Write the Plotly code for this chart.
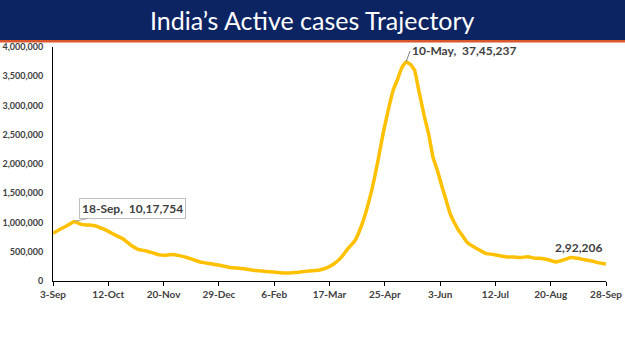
import plotly.graph_objects as go

dates = ["2020-09-03","2020-09-08","2020-09-13","2020-09-18","2020-09-23","2020-09-28",
         "2020-10-03","2020-10-08","2020-10-13","2020-10-18","2020-10-23","2020-10-28",
         "2020-11-02","2020-11-07","2020-11-12","2020-11-17","2020-11-22","2020-11-27",
         "2020-12-02","2020-12-07","2020-12-12","2020-12-17","2020-12-22","2020-12-27",
         "2021-01-01","2021-01-06","2021-01-11","2021-01-16","2021-01-21","2021-01-26",
         "2021-01-31","2021-02-05","2021-02-10","2021-02-13","2021-02-18","2021-02-23",
         "2021-02-28","2021-03-05","2021-03-10","2021-03-15","2021-03-20","2021-03-25",
         "2021-03-30","2021-04-04","2021-04-08","2021-04-12","2021-04-16","2021-04-20",
         "2021-04-24","2021-04-28","2021-05-01","2021-05-04","2021-05-07","2021-05-10",
         "2021-05-13","2021-05-16","2021-05-19","2021-05-23","2021-05-26","2021-05-29",
         "2021-06-01","2021-06-04","2021-06-07","2021-06-10","2021-06-13","2021-06-16",
         "2021-06-19","2021-06-22","2021-06-26","2021-06-30","2021-07-05","2021-07-10",
         "2021-07-15","2021-07-20","2021-07-25","2021-07-30","2021-08-04","2021-08-09",
         "2021-08-14","2021-08-19","2021-08-24","2021-08-29","2021-09-03","2021-09-08",
         "2021-09-13","2021-09-18","2021-09-23","2021-09-28"]
active = [815538, 883697, 947576, 1017754, 968377, 956402,
          940705, 893592, 836118, 772055, 710771, 610803,
          541405, 516632, 484547, 446805, 440962, 454940,
          428644, 396729, 354904, 318014, 300162, 278690,
          257656, 231036, 220676, 208826, 188688, 173740,
          164511, 155025, 142562, 136549, 139542, 150055,
          164511, 174332, 188747, 223432, 290382, 395192,
          552566, 691597, 910319, 1201009, 1570393, 2031977,
          2544003, 2979000, 3268710, 3448000, 3645164, 3745237,
          3704099, 3604000, 3253000, 2802000, 2505000, 2113000,
          1895520, 1642000, 1401609, 1155000, 1000000, 867496,
          767000, 662521, 595000, 540000, 471000, 455033,
          431000, 411189, 408977, 403840, 414159, 389166,
          385336, 358000, 325000, 360000, 403000, 390646,
          363605, 342000, 309575, 292206]

tick_vals = ["2020-09-03","2020-10-12","2020-11-20","2020-12-29","2021-02-06","2021-03-17",
             "2021-04-25","2021-06-03","2021-07-12","2021-08-20","2021-09-28"]
tick_text = ["3-Sep","12-Oct","20-Nov","29-Dec","6-Feb","17-Mar","25-Apr","3-Jun","12-Jul","20-Aug","28-Sep"]
y_ticks = [0, 500000, 1000000, 1500000, 2000000, 2500000, 3000000, 3500000, 4000000]

title_text = "India\u2019s Active cases Trajectory"
label_first = "18-Sep,  10,17,754"
label_peak = "10-May,  37,45,237"
label_last = "2,92,206"

fig = go.Figure()
fig.add_trace(go.Scatter(x=dates, y=active, mode="lines",
                         line=dict(color="#FFC000", width=3.5, shape="spline", smoothing=0.3),
                         hoverinfo="skip", showlegend=False))

W, H = 625, 351
L, R, T, B = 53, 19, 47, 70
pw, ph = W - L - R, H - T - B

def px_x(p):
    return (p - L) / pw

def px_y(p):
    return 1 - (p - T) / ph

fig.add_shape(type="rect", xref="paper", yref="paper",
              x0=px_x(0), x1=px_x(W), y0=px_y(40), y1=px_y(0),
              fillcolor="#0D2463", line_width=0, layer="below")
fig.add_shape(type="rect", xref="paper", yref="paper",
              x0=px_x(0), x1=px_x(W), y0=px_y(42.5), y1=px_y(40),
              fillcolor="#D9572B", line_width=0, layer="below")

fig.add_annotation(xref="paper", yref="paper", x=0.5 * (px_x(0) + px_x(W)), y=px_y(20),
                   text=title_text, showarrow=False, xanchor="center", yanchor="middle",
                   font=dict(family="Lato", size=25, color="white"))

fig.add_annotation(x=dates[3], y=active[3], text="<b>" + label_first + "</b>",
                   showarrow=True, arrowhead=0, arrowwidth=1, arrowcolor="#A6A6A6",
                   ax=58, ay=-13, xanchor="center", yanchor="middle",
                   bgcolor="white", bordercolor="#BFBFBF", borderwidth=1, borderpad=2,
                   font=dict(family="Lato", size=12, color="#404040"))

fig.add_annotation(x=dates[53], y=active[53], text="<b>" + label_peak + "</b>",
                   showarrow=True, arrowhead=0, arrowwidth=1, arrowcolor="#808080",
                   ax=4, ay=-11, xanchor="left", yanchor="middle",
                   font=dict(family="Lato", size=12, color="#404040"))

fig.add_annotation(x=dates[-1], y=active[-1], text="<b>" + label_last + "</b>",
                   showarrow=False, xanchor="right", yanchor="bottom", yshift=7, xshift=-2,
                   font=dict(family="Lato", size=12, color="#404040"))

fig.update_layout(
    width=W, height=H,
    margin=dict(l=L, r=R, t=T, b=B),
    paper_bgcolor="white", plot_bgcolor="white",
    xaxis=dict(type="date", range=["2020-09-03", "2021-09-28"],
               tickvals=tick_vals, ticktext=tick_text, showgrid=False,
               showline=True, linecolor="black", linewidth=1,
               ticks="outside", ticklen=4, tickcolor="black", automargin=False,
               tickfont=dict(family="Lato", size=10, color="#404040", weight="bold"),
               zeroline=False),
    yaxis=dict(range=[0, 4000000], tickvals=y_ticks, tickformat=",",
               showgrid=False, showline=True, linecolor="black", linewidth=1,
               ticks="", ticklabelstandoff=7, zeroline=False, automargin=False,
               tickfont=dict(family="Lato", size=9, color="#404040", weight="bold")),
)

fig.write_html("out.html")
